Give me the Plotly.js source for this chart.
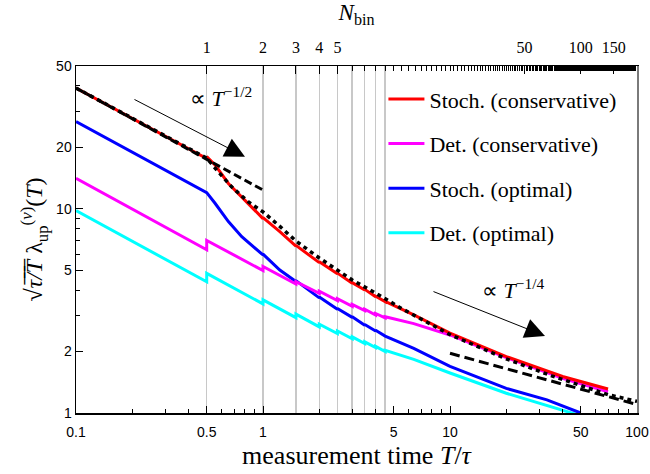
<!DOCTYPE html>
<html>
<head>
<meta charset="utf-8">
<script src="https://cdn.plot.ly/plotly-3.0.1.min.js"></script>
<style>html,body{margin:0;padding:0;background:#fff;}#chart{width:650px;height:474px;}</style>
</head>
<body>
<div id="chart"></div>
<script>
// ---- data ----
const stochConsT = [0.1, 0.5, 0.5, 0.554, 0.653, 0.8, 1, 1, 1.23, 1.5, 1.5, 2, 2, 2.5, 2.5, 3, 3, 3.5, 3.5, 4, 4, 4.5, 4.5, 6.4, 10, 20, 40, 70];
const stochConsV = [39.0, 17.6, 18.0, 16.4, 13.3, 11.0, 8.95, 9.05, 7.73, 6.57, 6.62, 5.45, 5.5, 4.8, 4.84, 4.32, 4.35, 4.0, 4.03, 3.71, 3.73, 3.51, 3.52, 3.02, 2.46, 1.89, 1.51, 1.31];

const detConsT = [0.1, 0.5, 0.5, 1, 1, 1.5, 1.5, 2, 2, 2.5, 2.5, 3, 3, 3.5, 3.5, 4, 4, 4.5, 4.5, 6.4, 10, 20, 40, 70];
const detConsV = [14.1, 6.3, 7.0, 4.98, 5.22, 4.28, 4.4, 3.85, 3.95, 3.55, 3.63, 3.33, 3.40, 3.17, 3.22, 3.02, 3.07, 2.92, 2.96, 2.74, 2.41, 1.87, 1.48, 1.27];

const stochOptT = [0.1, 0.5, 0.554, 0.653, 0.77, 0.907, 1, 1, 1.23, 1.5, 1.5, 2, 2, 2.5, 2.5, 3, 3, 3.5, 3.5, 4, 4, 4.5, 6.4, 10, 20, 33, 50];
const stochOptV = [26.7, 12.0, 10.64, 8.65, 7.3, 6.41, 5.94, 6.0, 5.01, 4.4, 4.45, 3.66, 3.70, 3.22, 3.25, 2.94, 2.96, 2.69, 2.71, 2.52, 2.54, 2.38, 2.07, 1.69, 1.32, 1.16, 1.0];

const detOptT = [0.1, 0.5, 0.5, 1, 1, 1.5, 1.5, 2, 2, 2.5, 2.5, 3, 3, 3.5, 3.5, 4, 4, 4.5, 4.5, 6.4, 10, 20, 50];
const detOptV = [9.79, 4.39, 4.83, 3.42, 3.58, 2.93, 3.05, 2.64, 2.72, 2.45, 2.52, 2.31, 2.36, 2.19, 2.23, 2.09, 2.12, 2.0, 2.03, 1.83, 1.57, 1.25, 0.97];

const refDotT = [0.1, 0.5, 0.565, 0.68, 0.836, 1, 1.23, 1.5, 2, 3, 4.3, 5.5, 10, 20, 35, 70, 100];
const refDotV = [39.0, 17.7, 15.5, 12.8, 10.8, 9.65, 8.2, 6.95, 5.74, 4.48, 3.72, 3.25, 2.42, 1.84, 1.52, 1.23, 1.14];

const slopeHalfT = [0.1, 1];
const slopeHalfV = [39.0, 12.35];
const slopeQuarterT = [10, 100];
const slopeQuarterV = [1.96, 1.10];

const seriesNames = ['Stoch. (conservative)', 'Det. (conservative)', 'Stoch. (optimal)', 'Det. (optimal)'];

const xTickVals = [0.1, 0.5, 1, 5, 10, 50, 100];
const xTickText = ['0.1', '0.5', '1', '5', '10', '50', '100'];
const yTickVals = [1, 2, 5, 10, 20, 50];
const yTickText = ['1', '2', '5', '10', '20', '50'];
const nbinLabelVals = [1, 2, 3, 4, 5, 50, 100, 150];
const nbinGridT = [0.5, 1, 1.5, 2, 2.5, 3, 3.5, 4, 4.5];

// ---- derived tick lists ----
function logMinor(lo, hi, exclude) {
  const out = [];
  for (let d = lo; d < hi; d *= 10) for (let m = 1; m < 10; m++) {
    const v = +(m * d).toPrecision(3);
    if (exclude.indexOf(v) < 0) out.push(v);
  }
  return out;
}
const xMinor = logMinor(0.1, 100, xTickVals);
const yMinor = logMinor(1, 10, yTickVals).concat([30, 40]);
const nbinMinor = [];
for (let n = 1; n <= 200; n++) if (nbinLabelVals.indexOf(n) < 0) nbinMinor.push(n);

const serif = 'Liberation Serif, Times New Roman, serif';
const sans = 'Liberation Sans, Arial, sans-serif';

const traces = [
  {x: detOptT, y: detOptV, name: seriesNames[3], legendgroup: 'd', legendrank: 4, mode: 'lines', line: {color: '#00ffff', width: 3}},
  {x: stochOptT, y: stochOptV, name: seriesNames[2], legendgroup: 'c', legendrank: 3, mode: 'lines', line: {color: '#0000ff', width: 3}},
  {x: detConsT, y: detConsV, name: seriesNames[1], legendgroup: 'b', legendrank: 2, mode: 'lines', line: {color: '#ff00ff', width: 3}},
  {x: stochConsT, y: stochConsV, name: seriesNames[0], legendgroup: 'a', legendrank: 1, mode: 'lines', line: {color: '#ff0000', width: 3}},
  {x: slopeHalfT, y: slopeHalfV, mode: 'lines', showlegend: false, line: {color: '#000', width: 3, dash: '8px,4px'}},
  {x: refDotT, y: refDotV, mode: 'lines', showlegend: false, line: {color: '#000', width: 3.5, dash: '4px,4px'}},
  {x: slopeQuarterT, y: slopeQuarterV, mode: 'lines', showlegend: false, line: {color: '#000', width: 3, dash: '10px,5px'}},
  // carriers for overlay axes (no visible marks)
  {x: [1], y: [null], xaxis: 'x2', mode: 'lines', showlegend: false, hoverinfo: 'skip'},
  {x: [1], y: [null], xaxis: 'x3', mode: 'lines', showlegend: false, hoverinfo: 'skip'},
  {x: [1], y: [null], yaxis: 'y2', mode: 'lines', showlegend: false, hoverinfo: 'skip'}
];

const layout = {
  width: 650, height: 474,
  margin: {l: 76, r: 13, t: 66, b: 61},
  paper_bgcolor: '#fff', plot_bgcolor: '#fff',
  showlegend: true,
  legend: {
    x: 0.548, y: 0.965, xanchor: 'left', yanchor: 'top',
    bgcolor: 'rgba(0,0,0,0)', borderwidth: 0,
    font: {family: serif, size: 22, color: '#000'},
    tracegroupgap: 13, traceorder: 'grouped', itemwidth: 36
  },
  xaxis: {
    type: 'log', range: [-1, 2],
    tickmode: 'array', tickvals: xTickVals, ticktext: xTickText,
    ticks: 'inside', ticklen: 7, tickwidth: 1, tickcolor: '#000',
    minor: {tickmode: 'array', tickvals: xMinor, ticks: 'inside', ticklen: 4, tickwidth: 1, tickcolor: '#000', showgrid: false},
    showgrid: false, zeroline: false,
    showline: true, linecolor: '#000', linewidth: 1.5, mirror: true,
    ticklabelstandoff: 6,
    tickfont: {family: sans, size: 14, color: '#000'},
    title: {text: 'measurement time <i>T</i>/<i>τ</i>', font: {family: serif, size: 26, color: '#000'}, standoff: 6}
  },
  xaxis2: {
    type: 'log', range: [Math.log10(0.2), Math.log10(200)],
    overlaying: 'x', side: 'top', anchor: 'y',
    tickmode: 'array', tickvals: nbinLabelVals, ticktext: nbinLabelVals.map(String),
    ticks: 'inside', ticklen: 8, tickwidth: 1, tickcolor: '#000',
    minor: {tickmode: 'array', tickvals: nbinMinor, ticks: 'inside', ticklen: 5, tickwidth: 1, tickcolor: '#000', showgrid: false},
    showgrid: false, zeroline: false, showline: false,
    ticklabelstandoff: 9,
    tickfont: {family: serif, size: 16, color: '#000'},
    title: {text: '<i>N</i><sub>bin</sub>', font: {family: serif, size: 23, color: '#000'}, standoff: 14}
  },
  xaxis3: {
    type: 'log', range: [-1, 2], overlaying: 'x', anchor: 'y',
    tickmode: 'array', tickvals: nbinGridT, showticklabels: false, ticks: '',
    showgrid: true, gridcolor: '#c8c8c8', gridwidth: 1.5, zeroline: false, showline: false
  },
  yaxis: {
    type: 'log', range: [0, Math.log10(50)],
    tickmode: 'array', tickvals: yTickVals, ticktext: yTickText,
    ticks: 'inside', ticklen: 7, tickwidth: 1, tickcolor: '#000',
    minor: {tickmode: 'array', tickvals: yMinor, ticks: 'inside', ticklen: 4, tickwidth: 1, tickcolor: '#000', showgrid: false},
    showgrid: false, zeroline: false,
    showline: true, linecolor: '#000', linewidth: 1.5, mirror: false,
    tickfont: {family: sans, size: 14, color: '#000'},
    title: {text: '√<i>τ\u0305/\u0305T\u0305</i> λ<sub>up</sub><sup>(<i>v</i>)</sup>(<i>T</i>)', font: {family: serif, size: 24, color: '#000'}, standoff: 6}
  },
  yaxis2: {
    type: 'log', range: [0, Math.log10(50)], overlaying: 'y', side: 'right', anchor: 'x',
    showticklabels: false, ticks: '', showgrid: false, zeroline: false,
    showline: true, linecolor: '#7a7a7a', linewidth: 1.5
  },
  annotations: [
    {xref: 'paper', yref: 'paper', x: 0.2585, y: 0.911, xanchor: 'center', yanchor: 'middle', text: '∝ <i>T</i><sup>−1/2</sup>', showarrow: false,
     font: {family: serif, size: 22, color: '#000'}},
    {xref: 'paper', yref: 'paper', x: 0.3012, y: 0.7386, text: '', showarrow: true,
     ax: -112, ay: -58, arrowhead: 2, arrowsize: 4, arrowwidth: 1, arrowcolor: '#000'},
    {xref: 'paper', yref: 'paper', x: 0.779, y: 0.357, xanchor: 'center', yanchor: 'middle', text: '∝ <i>T</i><sup>−1/4</sup>', showarrow: false,
     font: {family: serif, size: 22, color: '#000'}},
    {xref: 'paper', yref: 'paper', x: 0.836, y: 0.222, text: '', showarrow: true,
     ax: -113, ay: -45, arrowhead: 2, arrowsize: 4, arrowwidth: 1, arrowcolor: '#000'}
  ]
};

Plotly.newPlot('chart', traces, layout, {displayModeBar: false, staticPlot: true});
</script>
</body>
</html>
